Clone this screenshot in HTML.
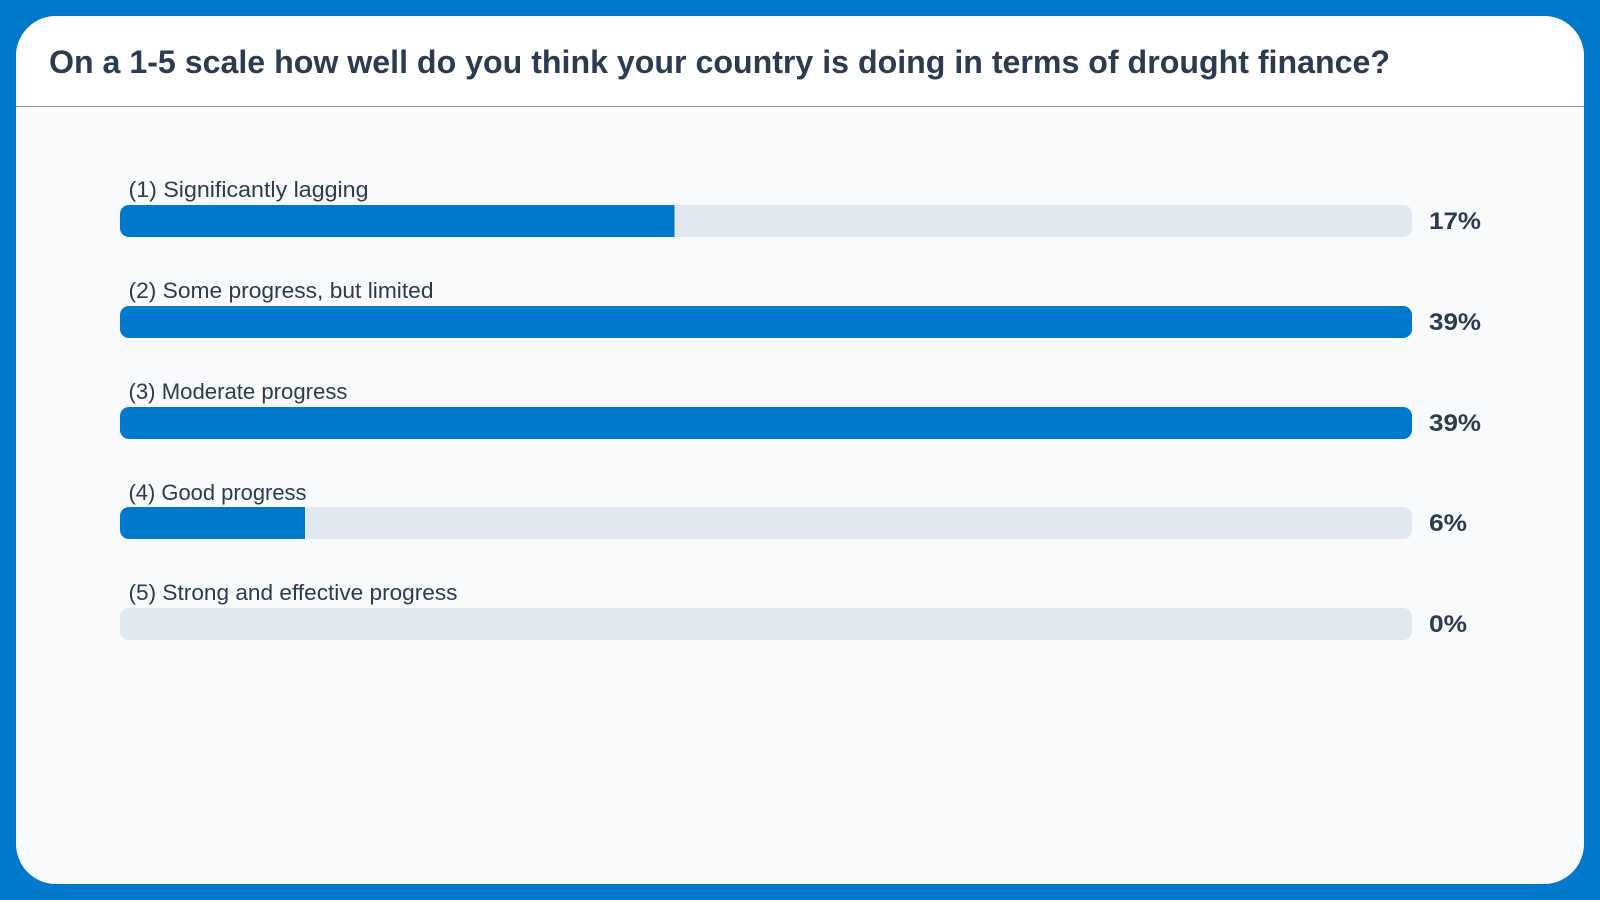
<!DOCTYPE html>
<html><head><meta charset="utf-8"><style>
html,body{margin:0;padding:0;background:#0079cc;width:1600px;height:900px;overflow:hidden}
</style></head><body>
<svg width="1600" height="900" xmlns="http://www.w3.org/2000/svg" font-family="Liberation Sans, sans-serif">
<rect x="0" y="0" width="1600" height="900" fill="#0079cc"/>
<rect x="16" y="16" width="1568" height="868" rx="40" fill="#f8fafc"/>
<path d="M56 16 H1544 A40 40 0 0 1 1584 56 V106 H16 V56 A40 40 0 0 1 56 16Z" fill="#fff"/>
<line x1="16" y1="106.5" x2="1584" y2="106.5" stroke="#8a97a8" stroke-width="1"/>
<text x="49" y="73" font-size="32" font-weight="bold" fill="#2d3b50" textLength="1341" lengthAdjust="spacingAndGlyphs">On a 1-5 scale how well do you think your country is doing in terms of drought finance?</text>
<g fill="#2d3b50" font-size="22">
<text x="128.5" y="197" textLength="240" lengthAdjust="spacingAndGlyphs">(1) Significantly lagging</text>
<text x="128.5" y="298" textLength="305" lengthAdjust="spacingAndGlyphs">(2) Some progress, but limited</text>
<text x="128.5" y="399" textLength="219" lengthAdjust="spacingAndGlyphs">(3) Moderate progress</text>
<text x="128.5" y="500" textLength="178" lengthAdjust="spacingAndGlyphs">(4) Good progress</text>
<text x="128.5" y="600" textLength="329" lengthAdjust="spacingAndGlyphs">(5) Strong and effective progress</text>
</g>
<defs>
<clipPath id="c1"><rect x="120" y="205" width="1292" height="32" rx="9"/></clipPath>
<clipPath id="c4"><rect x="120" y="507" width="1292" height="32" rx="9"/></clipPath>
</defs>
<rect x="120" y="205" width="1292" height="32" rx="9" fill="#e2e8f0"/>
<rect x="120" y="205" width="554.5" height="32" fill="#0079cc" clip-path="url(#c1)"/>
<rect x="120" y="306" width="1292" height="32" rx="9" fill="#0079cc"/>
<rect x="120" y="407" width="1292" height="32" rx="9" fill="#0079cc"/>
<rect x="120" y="507" width="1292" height="32" rx="9" fill="#e2e8f0"/>
<rect x="120" y="507" width="185" height="32" fill="#0079cc" clip-path="url(#c4)"/>
<rect x="120" y="608" width="1292" height="32" rx="9" fill="#e2e8f0"/>
<g fill="#2d3b50" font-size="24" font-weight="bold">
<text x="1429" y="229" textLength="52" lengthAdjust="spacingAndGlyphs">17%</text>
<text x="1429" y="330" textLength="52" lengthAdjust="spacingAndGlyphs">39%</text>
<text x="1429" y="431" textLength="52" lengthAdjust="spacingAndGlyphs">39%</text>
<text x="1429" y="531" textLength="38" lengthAdjust="spacingAndGlyphs">6%</text>
<text x="1429" y="632" textLength="38" lengthAdjust="spacingAndGlyphs">0%</text>
</g>
</svg>
</body></html>
